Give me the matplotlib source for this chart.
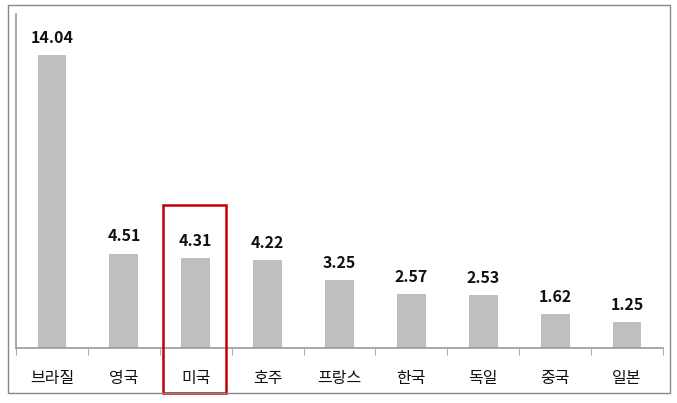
import matplotlib
matplotlib.use("Agg")
import matplotlib.pyplot as plt
from matplotlib.patches import Rectangle
import numpy as np

plt.rcParams['font.family'] = ['Noto Sans CJK KR', 'DejaVu Sans']

countries = ["브라질", "영국", "미국", "호주", "프랑스", "한국", "독일", "중국", "일본"]
values = [14.04, 4.51, 4.31, 4.22, 3.25, 2.57, 2.53, 1.62, 1.25]
highlight = "미국"

W, H = 677, 403
fig = plt.figure(figsize=(W / 100, H / 100), dpi=100)
ax = fig.add_axes([16 / W, 55 / H, 647 / W, 334 / H])

x = np.arange(len(countries))
ax.bar(x, values, width=0.4, color="#BFBFBF", zorder=2)
for xi, v in zip(x, values):
    ax.text(xi, v + 0.45, f"{v:.2f}", ha="center", va="bottom",
            fontsize=11.5, fontweight="bold", color="#111111")

ax.set_xlim(-0.5, len(countries) - 0.5)
ax.set_ylim(0, 16)
ax.set_yticks([])
ax.set_xticks(x)
ax.set_xticklabels(countries, fontsize=11.5, color="#111111")
ax.tick_params(axis="x", which="major", length=0, pad=16)
ax.set_xticks(np.arange(len(countries) + 1) - 0.5, minor=True)
ax.tick_params(axis="x", which="minor", length=5, color="#999999", direction="out")
for s in ["top", "right"]:
    ax.spines[s].set_visible(False)
for s in ["left", "bottom"]:
    ax.spines[s].set_color("#999999")
    ax.spines[s].set_linewidth(1.2)

# red highlight box around the US bar and its label
hi = countries.index(highlight)
box = Rectangle((hi - 0.455, -2.15), 0.87, 9.0, fill=False,
                edgecolor="#C00000", linewidth=1.8, clip_on=False, zorder=5)
ax.add_patch(box)

# outer frame
fig.patches.append(Rectangle((8 / W, 10 / H), 662 / W, 388 / H, fill=False,
                             edgecolor="#888888", linewidth=1.0,
                             transform=fig.transFigure))

fig.savefig("out.png", dpi=100)
